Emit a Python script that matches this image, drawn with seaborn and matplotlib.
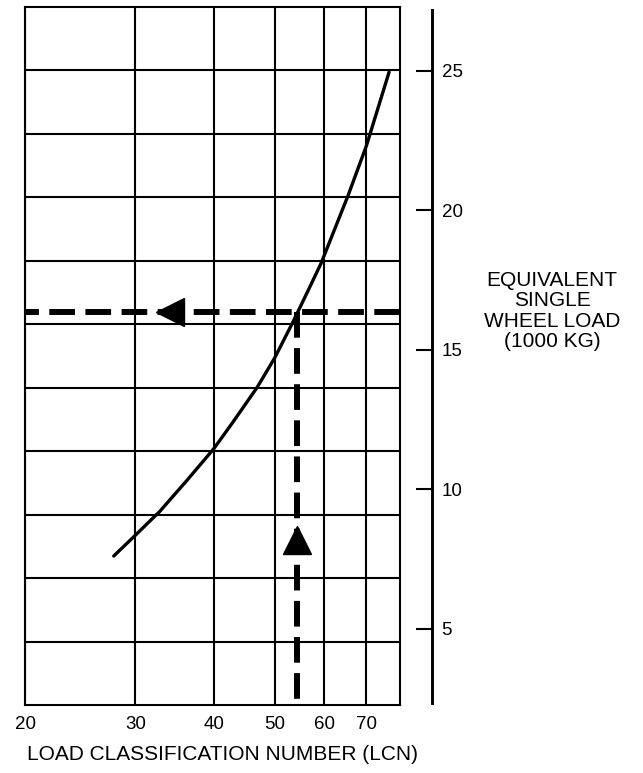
import matplotlib
matplotlib.use("Agg")
import matplotlib.pyplot as plt
from matplotlib.ticker import NullLocator
import pandas as pd
import seaborn as sns

# Load classification number vs. equivalent single wheel load (1000 kg)
lcn = [27.7, 30.0, 32.8, 36.2, 40.0, 42.9, 46.9, 50.0, 53.5, 56.9, 59.3,
       65.4, 70.0, 76.1]
eswl = [7.6, 8.35, 9.2, 10.3, 11.45, 12.4, 13.65, 14.7, 16.0, 17.25, 18.1,
        20.5, 22.3, 24.95]

# Worked example: wheel load read across to the curve, then down to the LCN
example_eswl = 16.35
example_lcn = 54.3

lcn_ticks = [20, 30, 40, 50, 60, 70]
lcn_tick_labels = ["20", "30", "40", "50", "60", "70"]
eswl_ticks = [5, 10, 15, 20, 25]
eswl_tick_labels = ["5", "10", "15", "20", "25"]

sns.set_style("white")
plt.rcParams["font.family"] = ["Liberation Sans", "DejaVu Sans"]
plt.rcParams["text.color"] = "black"
plt.rcParams["lines.scale_dashes"] = False

W, H = 643, 773
fig = plt.figure(figsize=(W / 100, H / 100), dpi=100)
ax = fig.add_axes([25 / W, 1 - 705 / H, 375 / W, 698 / H])
ax.set_xscale("log")
ax.set_xlim(20, 79.2)
ax.set_ylim(2.26, 27.28)

# frame and vertical grid at the LCN ticks
for s in ax.spines.values():
    s.set_visible(True)
    s.set_color("black")
    s.set_linewidth(1.5)
ax.set_xticks(lcn_ticks)
ax.set_xticklabels(lcn_tick_labels)
ax.xaxis.set_minor_locator(NullLocator())
ax.tick_params(axis="x", length=0, pad=8, labelsize=13.5, colors="black")
ax.set_yticks([])
ax.grid(axis="x", color="black", linewidth=1.5)
ax.set_axisbelow(True)

# evenly spaced horizontal ruling of the chart paper
for k in range(1, 11):
    ax.plot([0, 1], [k / 11, k / 11], transform=ax.transAxes,
            color="black", linewidth=1.5, zorder=1)

# the LCN / ESWL curve
df = pd.DataFrame({"LCN": lcn, "ESWL": eswl})
sns.lineplot(data=df, x="LCN", y="ESWL", sort=False, color="black",
             linewidth=2.4, ax=ax, zorder=3)
ax.lines[-1].set_solid_joinstyle("round")
ax.set_xlabel("")
ax.set_ylabel("")

# dashed reading lines with direction arrows
x0, x1 = ax.get_xlim()
y0, y1 = ax.get_ylim()
dash = dict(color="black", linewidth=4.3, linestyle=(0, (18.5, 7.5)),
            solid_capstyle="butt", dash_capstyle="butt", zorder=4)
ax.plot([x1, x0], [example_eswl, example_eswl], **dash)
ax.plot([example_lcn, example_lcn], [example_eswl, y0], **dash)
ax.plot(34.05, example_eswl, marker="<", markersize=20, color="black",
        zorder=5)
ax.plot(example_lcn, 8.19, marker="^", markersize=20, color="black",
        zorder=5)

# ESWL scale on a separate spine to the right
ax2 = ax.twinx()
ax2.set_ylim(y0, y1)
for s in ["left", "top", "bottom"]:
    ax2.spines[s].set_visible(False)
ax2.spines["right"].set_position(("outward", 23))
ax2.spines["right"].set_linewidth(2.1)
ax2.spines["right"].set_color("black")
ax2.spines["right"].set_bounds(2.33, 27.17)
ax2.set_yticks(eswl_ticks)
ax2.set_yticklabels(eswl_tick_labels)
ax2.tick_params(axis="y", direction="in", length=11.5, width=1.5, pad=7,
                labelsize=13.5, colors="black")
ax2.grid(False)

fig.text(223 / W, 1 - 755 / H, "LOAD CLASSIFICATION NUMBER (LCN)",
         ha="center", va="center", fontsize=15)
fig.text(552 / W, 1 - 311 / H, "EQUIVALENT\nSINGLE\nWHEEL LOAD\n(1000 KG)",
         ha="center", va="center", multialignment="center", fontsize=15,
         linespacing=1.1)

fig.savefig("out.png", dpi=100)
